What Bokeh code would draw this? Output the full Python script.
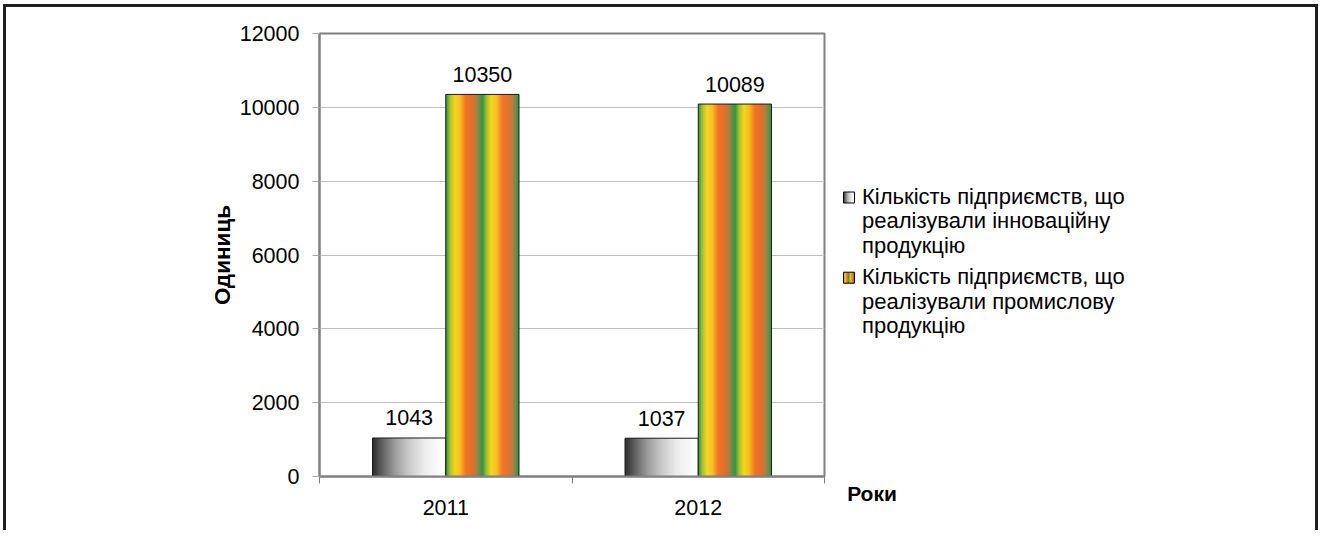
from bokeh.plotting import figure
from bokeh.layouts import row, column
from bokeh.models import Range1d, FixedTicker
from bokeh.embed import file_html
from bokeh.resources import INLINE
from bokeh.core.properties import value

# ---------------- data ----------------
years = ["2011", "2012"]
innovative = [1043, 1037]
industrial = [10350, 10089]
series_names = [
    "Кількість підприємств, що\nреалізували інноваційну\nпродукцію",
    "Кількість підприємств, що\nреалізували промислову\nпродукцію",
]
y_ticks = [0, 2000, 4000, 6000, 8000, 10000, 12000]
y_title = "Одиниць"
x_title = "Роки"

# ---------------- style ----------------
FONT = "Liberation Sans"
FS = "21.5px"
FS_LEG = "22px"

def hex2rgb(h):
    h = h.lstrip("#")
    return [int(h[i:i + 2], 16) for i in (0, 2, 4)]

def interp(stops, t):
    for (t0, c0), (t1, c1) in zip(stops[:-1], stops[1:]):
        if t0 <= t <= t1:
            f = 0 if t1 == t0 else (t - t0) / (t1 - t0)
            a, b = hex2rgb(c0), hex2rgb(c1)
            return "#%02x%02x%02x" % tuple(int(round(a[i] + (b[i] - a[i]) * f)) for i in range(3))
    return stops[-1][1]

grey_stops = [(0, "#2b2b2b"), (0.1, "#555555"), (0.3, "#9a9a9a"), (0.5, "#c9c9c9"),
              (0.7, "#ebebeb"), (0.9, "#fafafa"), (1, "#ffffff")]
color_stops = [(0, "#2a9246"), (0.12, "#a9c231"), (0.25, "#f6d61c"), (0.38, "#f7c01f"),
               (0.55, "#ef7424"), (0.7, "#e86e2a"), (0.85, "#a78042"), (1.0, "#2a9a48")]

def grey_color(t):
    return interp(grey_stops, t)

def rainbow_color(t):
    return interp(color_stops, (t * 2) % 1.0)

BORDER = 3
PAD_L, PAD_T, PAD_R = 3, 4, 2
H = 530 - PAD_T - BORDER
W1 = 820
W2 = 1320 - PAD_L - PAD_R - 2 * BORDER - W1

# ---------------- main chart ----------------
p = figure(width=W1, height=H, output_backend="svg", toolbar_location=None,
           x_range=Range1d(0, 2 * len(years)), y_range=Range1d(0, 12000),
           min_border_left=313, min_border_right=2, min_border_top=26, min_border_bottom=54)
p.background_fill_color = "white"
p.border_fill_color = "white"

centers = [2 * i + 1 for i in range(len(years))]
bw = 0.58
off = 0.29
N = 74
series = [(innovative, -off, grey_color), (industrial, off, rainbow_color)]
for vals, dx, cfn in series:
    lefts, rights, tops, cols = [], [], [], []
    for c, v in zip(centers, vals):
        x0 = c + dx - bw / 2
        for k in range(N):
            lefts.append(x0 + k * bw / N)
            rights.append(x0 + min((k + 1.7) * bw / N, bw))
            tops.append(v)
            cols.append(cfn((k + 0.5) / N))
    p.quad(left=lefts, right=rights, bottom=0, top=tops, fill_color=cols, line_color=None)
    xs = [c + dx for c in centers]
    p.vbar(x=xs, width=bw, top=vals, bottom=0, fill_color=None, line_color="#1a1a1a", line_width=1)
    p.text(x=xs, y=vals, text=[str(v) for v in vals], text_align="center",
           text_baseline="alphabetic", y_offset=-20, text_font=value(FONT),
           text_font_size=FS, text_color="black")

p.yaxis.ticker = FixedTicker(ticks=y_ticks)
p.yaxis.axis_line_color = "#808080"
p.yaxis.axis_line_width = 2
p.yaxis.major_tick_out = 7
p.yaxis.major_tick_in = 0
p.yaxis.major_tick_line_color = "#a8a8a8"
p.yaxis.minor_tick_line_color = None
p.yaxis.major_label_standoff = 13
p.yaxis.major_label_text_font = FONT
p.yaxis.major_label_text_font_size = FS
p.yaxis.major_label_text_color = "black"
p.yaxis.axis_label = y_title
p.yaxis.axis_label_text_font = FONT
p.yaxis.axis_label_text_font_size = "22.5px"
p.yaxis.axis_label_text_font_style = "bold"
p.yaxis.axis_label_text_color = "black"
p.yaxis.axis_label_standoff = 2

p.xaxis.ticker = FixedTicker(ticks=centers, minor_ticks=list(range(0, 2 * len(years) + 1, 2)))
p.xaxis.major_label_overrides = {c: y for c, y in zip(centers, years)}
p.xaxis.axis_line_color = "#808080"
p.xaxis.axis_line_width = 2
p.xaxis.major_tick_out = 0
p.xaxis.major_tick_in = 0
p.xaxis.minor_tick_out = 7
p.xaxis.minor_tick_in = 0
p.xaxis.minor_tick_line_color = "#808080"
p.xaxis.major_label_standoff = 16
p.xaxis.major_label_text_font = FONT
p.xaxis.major_label_text_font_size = FS
p.xaxis.major_label_text_color = "black"

p.xgrid.visible = False
p.ygrid.grid_line_color = "#c0c0c0"
p.ygrid.grid_line_width = 1
p.outline_line_color = "#808080"
p.outline_line_width = 2

# ---------------- legend panel ----------------
q = figure(width=W2, height=H, output_backend="svg", toolbar_location=None,
           x_range=Range1d(0, W2), y_range=Range1d(H, 0),
           x_axis_location=None, y_axis_location=None,
           min_border=0, min_border_left=0, min_border_right=0,
           min_border_top=0, min_border_bottom=0)
q.grid.visible = False
q.outline_line_color = None
q.background_fill_color = "white"
q.border_fill_color = "white"

icon_fns = [grey_color, rainbow_color]
ICON_X, ICON_W, TEXT_X = 17, 11, 35.5
FIRST_LINE, LINE_STEP, ITEM_STEP = 189, 24.3, 80.2
for i, (name, fn) in enumerate(zip(series_names, icon_fns)):
    base = FIRST_LINE + ITEM_STEP * i
    lines = name.split("\n")
    q.text(x=[TEXT_X] * len(lines), y=[base + LINE_STEP * j for j in range(len(lines))],
           text=lines, text_align="left", text_baseline="alphabetic",
           text_font=value(FONT), text_font_size=FS_LEG, text_color="black")
    itop = base - 4.5
    q.quad(left=[ICON_X + k for k in range(ICON_W)],
           right=[ICON_X + min(k + 1.6, ICON_W) for k in range(ICON_W)],
           top=itop, bottom=itop + ICON_W,
           fill_color=[fn((k + 0.5) / ICON_W) for k in range(ICON_W)], line_color=None)
    q.quad(left=[ICON_X], right=[ICON_X + ICON_W], top=itop, bottom=itop + ICON_W,
           fill_color=None, line_color="black", line_width=1)

q.text(x=[45.5], y=[485.6], text=[x_title], text_align="center", text_baseline="alphabetic",
       text_font=value(FONT), text_font_size="21px", text_font_style="bold", text_color="black")

edge = "%dpx solid #1f1f1f" % BORDER
inner = row(column(p), column(q), styles={"border-left": edge, "border-top": edge, "border-right": edge})
layout = column(inner, styles={"padding": "%dpx %dpx 0px %dpx" % (PAD_T, PAD_R, PAD_L),
                               "background-color": "white"})

open("out.html", "w").write(file_html(layout, INLINE))
